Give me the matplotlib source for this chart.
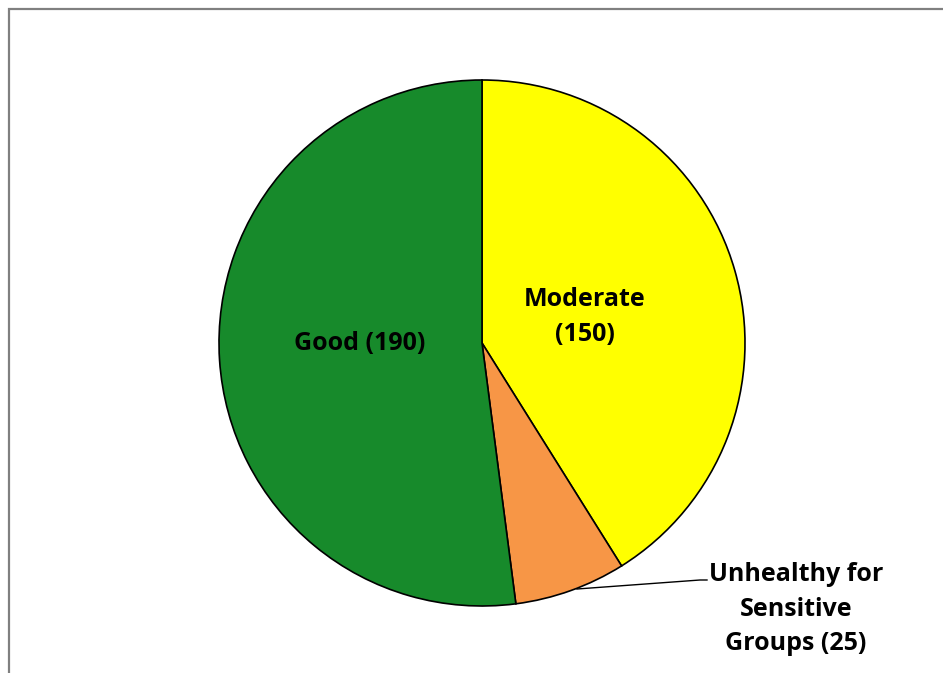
import matplotlib
matplotlib.use("Agg")
import matplotlib.pyplot as plt
from matplotlib.patches import Rectangle

categories = ["Moderate", "Unhealthy for\nSensitive\nGroups", "Good"]
values = [150, 25, 190]
colors = ["#FFFF00", "#F79646", "#178A2B"]

W, H = 943, 673
fig = plt.figure(figsize=(W / 100, H / 100), dpi=100)
fig.patch.set_facecolor("white")

cx, cy, r = 482, 343, 263
ax = fig.add_axes([(cx - r) / W, (H - cy - r) / H, 2 * r / W, 2 * r / H])
ax.pie(values, colors=colors, startangle=90, counterclock=False,
       wedgeprops=dict(edgecolor="black", linewidth=1.2), radius=1)
ax.set_xlim(-1, 1)
ax.set_ylim(-1, 1)
ax.set_aspect("equal")
ax.axis("off")

def d(px, py):
    return ((px - cx) / r, (cy - py) / r)

font = dict(family=["Open Sans", "DejaVu Sans"], fontweight="bold", fontsize=18, color="black")
ax.text(*d(360, 343), f"{categories[2]} ({values[2]})", ha="center", va="center", **font)
ax.text(*d(585, 317), f"{categories[0]}\n({values[0]})", ha="center", va="center", linespacing=1.5, **font)
ax.text(*d(796, 609), f"{categories[1]} ({values[1]})", ha="center", va="center", linespacing=1.5, **font)

# leader line
p1 = d(577, 589)
p2 = d(700, 580)
p3 = d(707, 580)
ax.plot([p1[0], p2[0], p3[0]], [p1[1], p2[1], p3[1]], color="black", lw=1, clip_on=False)

# chart frame
fig.patches.append(Rectangle((8.5 / W, -0.1), 1.2, (H - 9.5) / H + 0.1,
                             transform=fig.transFigure, fill=False,
                             edgecolor="#808080", linewidth=1.6))

fig.savefig("out.png", dpi=100, facecolor="white")
